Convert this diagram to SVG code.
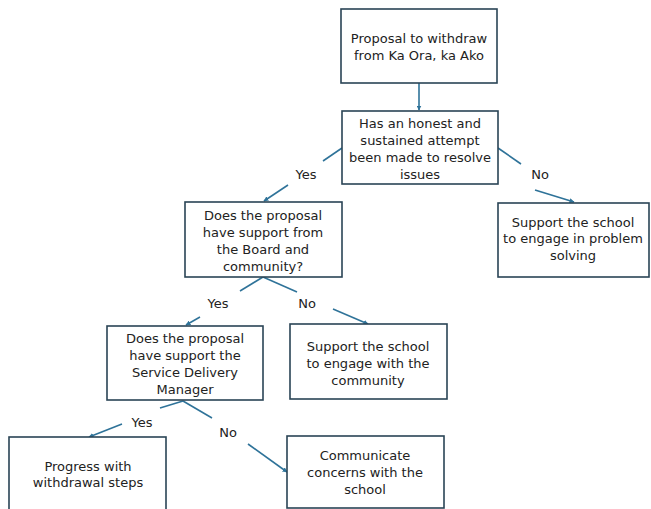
<svg xmlns="http://www.w3.org/2000/svg" width="651" height="509" viewBox="0 0 651 509">
<style>
.box{fill:#fff;stroke:#2a4455;stroke-width:1.6}
.t{font-family:"DejaVu Sans","Liberation Sans",sans-serif;font-size:13px;fill:#222;text-anchor:middle}
.c{stroke:#2f7399;stroke-width:1.6;fill:none}
.ca{stroke:#2f7399;stroke-width:1.6;fill:none;marker-end:url(#ah)}
</style>
<defs>
<marker id="ah" viewBox="0 0 10 10" refX="9" refY="5" markerWidth="5" markerHeight="5" orient="auto" markerUnits="userSpaceOnUse">
<path d="M0,0 L10,5 L0,10 z" fill="#2f7399"/>
</marker>
</defs>
<rect width="651" height="509" fill="#fff"/>
<g id="connectors">
<line class="ca" x1="419" y1="83" x2="419" y2="110"/>
<line class="c" x1="342" y1="148" x2="323" y2="161"/>
<line class="ca" x1="288" y1="185" x2="264" y2="201"/>
<line class="c" x1="498" y1="148" x2="521" y2="164"/>
<line class="ca" x1="535" y1="190" x2="574" y2="202"/>
<line class="c" x1="263" y1="277" x2="240" y2="291"/>
<line class="ca" x1="200" y1="317" x2="186" y2="325"/>
<line class="c" x1="263" y1="277" x2="297" y2="292"/>
<line class="ca" x1="333" y1="309" x2="368" y2="324"/>
<line class="c" x1="183" y1="401" x2="160" y2="408"/>
<line class="ca" x1="122" y1="424" x2="89" y2="437"/>
<line class="c" x1="183" y1="401" x2="212" y2="418"/>
<line class="ca" x1="248" y1="444" x2="287" y2="472"/>
<text class="t" x="306" y="179">Yes</text>
<text class="t" x="540" y="179">No</text>
<text class="t" x="218" y="308">Yes</text>
<text class="t" x="307" y="308">No</text>
<text class="t" x="142" y="427">Yes</text>
<text class="t" x="228" y="437">No</text>
</g>
<g id="n1">
<rect class="box" x="341" y="9" width="156" height="74"/>
<text class="t" x="419" y="43">Proposal to withdraw</text>
<text class="t" x="419" y="60">from Ka Ora, ka Ako</text>
</g>
<g id="n2">
<rect class="box" x="342" y="111" width="156" height="73"/>
<text class="t" x="420" y="128">Has an honest and</text>
<text class="t" x="420" y="145">sustained attempt</text>
<text class="t" x="420" y="162">been made to resolve</text>
<text class="t" x="420" y="179">issues</text>
</g>
<g id="n3">
<rect class="box" x="185" y="202" width="157" height="75"/>
<text class="t" x="263" y="220">Does the proposal</text>
<text class="t" x="263" y="237">have support from</text>
<text class="t" x="263" y="254">the Board and</text>
<text class="t" x="263" y="271">community?</text>
</g>
<g id="n4">
<rect class="box" x="498" y="203" width="151" height="74"/>
<text class="t" x="573" y="227">Support the school</text>
<text class="t" x="573" y="243">to engage in problem</text>
<text class="t" x="573" y="260">solving</text>
</g>
<g id="n5">
<rect class="box" x="107" y="326" width="156" height="74"/>
<text class="t" x="185" y="343">Does the proposal</text>
<text class="t" x="185" y="360">have support the</text>
<text class="t" x="185" y="377">Service Delivery</text>
<text class="t" x="185" y="394">Manager</text>
</g>
<g id="n6">
<rect class="box" x="290" y="324" width="157" height="75"/>
<text class="t" x="368" y="351">Support the school</text>
<text class="t" x="368" y="368">to engage with the</text>
<text class="t" x="368" y="385">community</text>
</g>
<g id="n7">
<rect class="box" x="9" y="437" width="157" height="80"/>
<text class="t" x="88" y="471">Progress with</text>
<text class="t" x="88" y="487">withdrawal steps</text>
</g>
<g id="n8">
<rect class="box" x="287" y="436" width="157" height="72"/>
<text class="t" x="365" y="460">Communicate</text>
<text class="t" x="365" y="477">concerns with the</text>
<text class="t" x="365" y="494">school</text>
</g>
</svg>
